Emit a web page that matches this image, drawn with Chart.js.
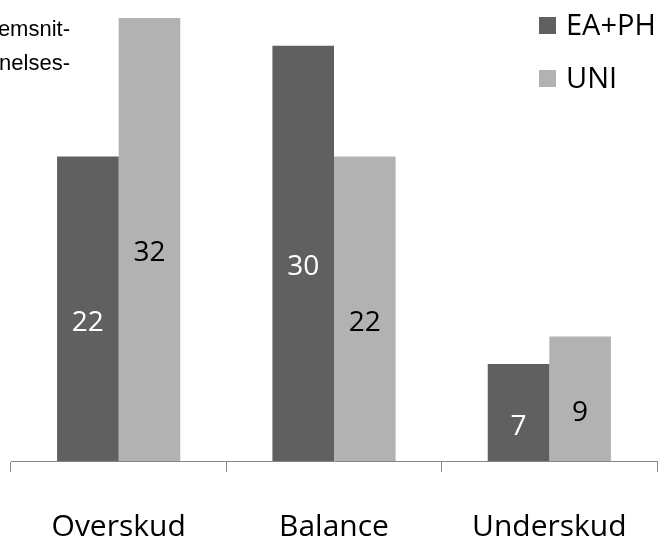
<!DOCTYPE html>
<html>
<head>
<meta charset="utf-8">
<script src="https://cdn.jsdelivr.net/npm/chart.js@4/dist/chart.umd.min.js"></script>
<style>
  html, body { margin: 0; padding: 0; background: #fff; }
  #chart { display: block; }
</style>
</head>
<body>
<canvas id="chart" width="659" height="541"></canvas>
<script>
const categories = ["Overskud", "Balance", "Underskud"];
const eaPh = [22, 30, 7];
const uni = [32, 22, 9];
const seriesNames = ["EA+PH", "UNI"];
const titleLines = ["emsnit-", "nelses-"];

const DARK = "rgb(96, 96, 96)";
const LIGHT = "rgb(178, 178, 178)";
const FONT = "'Open Sans', sans-serif";

// numbers drawn inside each bar, a bit below its middle
const barLabels = {
  id: "barLabels",
  afterDatasetsDraw(chart) {
    const ctx = chart.ctx;
    ctx.save();
    ctx.font = "28px " + FONT;
    ctx.textAlign = "center";
    ctx.textBaseline = "middle";
    chart.data.datasets.forEach((ds, i) => {
      chart.getDatasetMeta(i).data.forEach((bar, j) => {
        ctx.fillStyle = i === 0 ? "#fff" : "#000";
        const y = (bar.y + bar.base) / 2 + 14;
        ctx.fillText(String(ds.data[j]), bar.x, y);
      });
    });
    ctx.restore();
  }
};

// square-marker legend in the top right corner
const cornerLegend = {
  id: "cornerLegend",
  afterDraw(chart) {
    const ctx = chart.ctx;
    ctx.save();
    ctx.font = "29px " + FONT;
    ctx.textBaseline = "middle";
    chart.data.datasets.forEach((ds, i) => {
      const y = 26 + i * 53;
      ctx.fillStyle = ds.backgroundColor;
      ctx.fillRect(539, y - 9, 17, 17);
      ctx.fillStyle = "#000";
      ctx.fillText(ds.label, 566, y + 1);
    });
    ctx.restore();
  }
};

// leftover title text at the top left edge
const titleText = {
  id: "titleText",
  afterDraw(chart) {
    const ctx = chart.ctx;
    ctx.save();
    ctx.font = "22px 'Liberation Sans', Arial, sans-serif";
    ctx.fillStyle = "#000";
    ctx.textAlign = "right";
    ctx.textBaseline = "alphabetic";
    ctx.fillText(titleLines[0], 70, 36);
    ctx.fillText(titleLines[1], 70, 70);
    ctx.restore();
  }
};

new Chart(document.getElementById("chart"), {
  type: "bar",
  data: {
    labels: categories,
    datasets: [
      { label: seriesNames[0], data: eaPh, backgroundColor: DARK },
      { label: seriesNames[1], data: uni, backgroundColor: LIGHT }
    ]
  },
  options: {
    responsive: false,
    animation: false,
    layout: { padding: { left: 11, right: 2, top: 18, bottom: 0 } },
    datasets: {
      bar: { categoryPercentage: 0.572, barPercentage: 1 }
    },
    plugins: {
      legend: { display: false },
      tooltip: { enabled: false }
    },
    scales: {
      x: {
        afterFit(scale) {
          scale.height = 80;
          scale.paddingLeft = 0;
          scale.paddingRight = 0;
        },
        grid: {
          offset: true,
          drawOnChartArea: false,
          color: "#868686",
          tickLength: 11
        },
        border: { color: "#868686", width: 1 },
        ticks: {
          color: "#000",
          padding: 37,
          maxRotation: 0,
          font: { family: FONT, size: 30 }
        }
      },
      y: {
        display: false,
        min: 0,
        max: 32
      }
    }
  },
  plugins: [barLabels, cornerLegend, titleText]
});
</script>
</body>
</html>
